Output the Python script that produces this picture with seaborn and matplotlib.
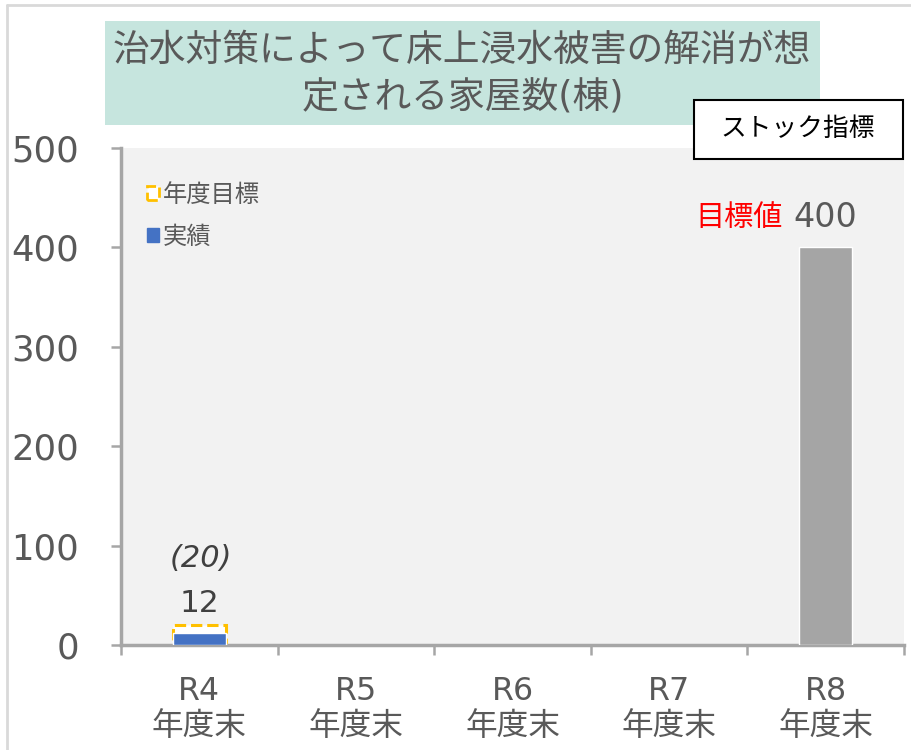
import numpy as np
import pandas as pd
import matplotlib
matplotlib.use('Agg')
import matplotlib.pyplot as plt
from matplotlib.patches import Rectangle, Patch
from matplotlib.lines import Line2D
import seaborn as sns

# --------------------------
# Data
# --------------------------
categories = ['R4\n年度末', 'R5\n年度末', 'R6\n年度末', 'R7\n年度末', 'R8\n年度末']
target_vals = [20, np.nan, np.nan, np.nan, np.nan]     # 年度目標
actual_vals = [12, np.nan, np.nan, np.nan, np.nan]     # 実績
goal_vals = [np.nan, np.nan, np.nan, np.nan, 400]      # 目標値
y_ticks = [0, 100, 200, 300, 400, 500]

title_line1 = '治水対策によって床上浸水被害の解消が想'
title_line2 = '定される家屋数(棟)'

TEXT = '#595959'
BLUE = '#4472C4'
GOLD = '#FFC000'
GREY_BAR = '#A5A5A5'

sns.set_theme(style='white')
# latin glyphs from DejaVu, japanese falls through to Noto CJK
plt.rcParams['font.family'] = ['DejaVu Sans', 'Noto Sans CJK JP']

df = pd.DataFrame({'cat': categories, 'target': target_vals,
                   'actual': actual_vals, 'goal': goal_vals})

fig = plt.figure(figsize=(9.12, 7.5), dpi=100)
ax = fig.add_axes([121 / 912, 1 - 645 / 750, 783 / 912, 497 / 750])
ax.set_facecolor('#F2F2F2')

bw = 0.34
sns.barplot(data=df, x='cat', y='target', order=categories, width=bw,
            color='white', edgecolor=GOLD, linestyle='--', linewidth=2.2,
            saturation=1, ax=ax, zorder=2)
sns.barplot(data=df, x='cat', y='actual', order=categories, width=bw,
            color=BLUE, saturation=1, ax=ax, zorder=3)
sns.barplot(data=df, x='cat', y='goal', order=categories, width=bw,
            color=GREY_BAR, saturation=1, ax=ax, zorder=3)

ax.set_xlim(-0.5, len(categories) - 0.5)
ax.set_ylim(0, 500)
ax.set_yticks(y_ticks)
ax.set_xlabel('')
ax.set_ylabel('')

for s in ['top', 'right']:
    ax.spines[s].set_visible(False)
for s in ['left', 'bottom']:
    ax.spines[s].set_color('#A6A6A6')
    ax.spines[s].set_linewidth(2.5)

ax.tick_params(axis='y', left=True, length=7, width=1.8, color='#A6A6A6',
               pad=23, labelsize=25.5, labelcolor=TEXT)
ax.tick_params(axis='x', which='major', length=0, pad=22, labelsize=22.8,
               labelcolor=TEXT)
ax.set_xticks(np.arange(-0.5, len(categories)), minor=True)
ax.tick_params(axis='x', which='minor', bottom=True, length=7, width=1.8,
               color='#A6A6A6')

# value labels
ax.text(0, actual_vals[0] + 30, f'{actual_vals[0]}', ha='center', va='center',
        fontsize=22.5, color='#404040')
ax.text(0.01, target_vals[0] + 67, f'({target_vals[0]})', ha='center', va='center',
        fontsize=22, color='#404040', style='italic')
ax.text(4, goal_vals[4] + 30, f'{goal_vals[4]}', ha='center', va='center',
        fontsize=24, color=TEXT)
ax.text(3.725, goal_vals[4] + 30, '目標値', ha='right', va='center',
        fontsize=21, color='#FF0000')

# legend
handles = [Patch(facecolor='white', edgecolor=GOLD, linestyle='--', linewidth=2),
           Patch(facecolor=BLUE, edgecolor=BLUE)]
ax.legend(handles, ['年度目標', '実績'], loc='upper left',
          bbox_to_anchor=(0.033, 0.93), frameon=False, fontsize=17.5,
          labelcolor=TEXT, handlelength=0.5, handleheight=0.5,
          handletextpad=0.15, labelspacing=0.75, borderpad=0, borderaxespad=0)

# title box
fig.add_artist(Rectangle((105 / 912, 1 - 125 / 750), 715 / 912, 104 / 750,
                         transform=fig.transFigure, facecolor='#C6E5DE',
                         edgecolor='none', zorder=0))
fig.text(462 / 912, 1 - 50 / 750, title_line1, ha='center', va='center',
         fontsize=26.5, color=TEXT)
fig.text(463 / 912, 1 - 98 / 750, title_line2, ha='center', va='center',
         fontsize=26.5, color=TEXT)

# stock indicator box
fig.add_artist(Rectangle((694 / 912, 1 - 159 / 750), 209 / 912, 59 / 750,
                         transform=fig.transFigure, facecolor='white',
                         edgecolor='black', linewidth=1.5, zorder=5))
fig.text(798 / 912, 1 - 129 / 750, 'ストック指標', ha='center', va='center',
         fontsize=18.5, color='black', zorder=6)

# outer border
fig.add_artist(Line2D([7 / 912, 7 / 912], [0, 1 - 5 / 750],
                      transform=fig.transFigure, color='#D9D9D9', linewidth=2))
fig.add_artist(Line2D([7 / 912, 1], [1 - 5 / 750, 1 - 5 / 750],
                      transform=fig.transFigure, color='#D9D9D9', linewidth=2))

fig.savefig('out.png', dpi=100)
